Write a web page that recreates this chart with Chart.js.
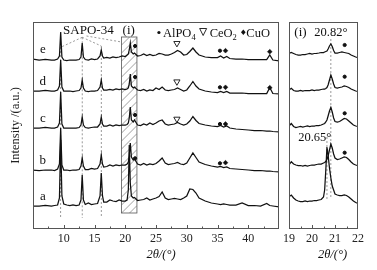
<!DOCTYPE html>
<html lang="en">
<head>
<meta charset="UTF-8">
<title>XRD patterns a-e</title>
<script src="https://cdn.jsdelivr.net/npm/chart.js"></script>
<style>
  html, body { margin: 0; padding: 0; background: #fff; }
  #wrap { position: relative; width: 377px; height: 270px; }
  #wide { position: absolute; left: 0; top: 0; }
  #zoom { position: absolute; left: 284px; top: 0; }
</style>
</head>
<body>
<div id="wrap">
  <canvas id="wide" width="284" height="270"></canvas>
  <canvas id="zoom" width="93" height="270"></canvas>
</div>
<script>
// ---- data (2theta in degrees, intensity in offset a.u.) ----
const SAMPLES = ['a', 'b', 'c', 'd', 'e'];

const X_WIDE = [5, 6, 7, 8, 8.5, 9, 9.3, 9.5, 9.7, 10, 10.5, 11, 11.5, 12, 12.5, 12.8, 13, 13.2, 13.5, 14,
  14.5, 15, 15.5, 15.9, 16.1, 16.3, 16.5, 17, 17.5, 18, 18.5, 19, 19.5, 20, 20.3, 20.5, 20.65, 20.82, 21, 21.3,
  21.5, 22, 22.5, 23, 23.5, 24, 24.5, 25, 25.5, 26, 26.5, 27, 27.5, 28, 28.5, 29, 29.5, 30, 30.5, 31,
  31.5, 32, 33, 34, 35, 35.5, 36, 36.5, 37, 38, 39, 40, 41, 42, 43, 43.5, 44, 45];

const WIDE_A = [23, 23, 23.5, 23, 23.5, 24, 31, 89, 33, 25, 24, 23.5, 24, 23.5, 24, 29, 54, 29, 24.5, 26,
  24.5, 25, 25.5, 33, 56, 33, 27, 27, 29, 28, 27.5, 29, 28, 28, 29, 39, 84, 46, 33, 31,
  31.5, 28.5, 29, 29.5, 31, 29, 30, 31, 32.5, 37, 31, 29.5, 30, 30.5, 30, 29.5, 31, 33, 40, 39.5,
  36, 31, 28, 26, 25, 24.5, 25, 24.5, 24, 24, 26, 23.5, 23.5, 23, 25.5, 23.5, 23, 22];
const WIDE_B = [59, 58.5, 59, 59, 58.5, 60, 65, 101, 64, 59, 59, 58.5, 59, 59, 59.5, 63, 71, 63, 59.5, 59.5,
  60.5, 60, 60.5, 65, 74, 65, 62, 62.5, 64, 63, 64, 63.5, 64, 64, 65, 67, 73, 86, 72, 69,
  70, 65, 64, 65.5, 64, 65, 64.5, 65.5, 68, 71, 66, 64.5, 65, 65.5, 66.5, 65, 64.5, 66, 71, 76,
  71.5, 67, 64.5, 63, 62, 62.5, 61.5, 62, 60.5, 60, 59.5, 59, 58.5, 58.5, 58, 58, 57.5, 57];
const WIDE_C = [101, 101, 101.5, 101, 101, 102, 106, 137, 105, 101, 101, 101, 101, 101, 101.5, 104, 112, 104, 101.5, 101,
  101.5, 102, 102, 105, 112, 105, 103, 103, 104, 103, 104, 103.5, 104, 104, 104.5, 106, 111, 122, 109, 107,
  109, 104, 103.5, 105, 104, 106, 104.5, 106, 108, 109, 105, 104, 104.5, 105, 106.5, 105, 104, 105, 108, 112.5,
  108.5, 105.5, 104, 103, 102.5, 103.5, 102, 103, 101, 100, 99.5, 99, 98.5, 98.5, 98, 98, 97.5, 97];
const WIDE_D = [138, 138, 138.5, 138, 138, 139, 143, 169, 142, 138, 138, 138, 137.5, 138, 138.5, 141, 149, 141, 138, 137.5,
  138, 138, 138.5, 142, 149, 141, 139, 139, 139.5, 139, 140, 139.5, 140, 139.5, 140, 141, 145, 155, 143, 141,
  142, 139, 138.5, 139.5, 138, 139, 138.5, 141, 139.5, 142, 139, 138.5, 139, 139.5, 141, 139.5, 138, 139, 143, 147.5,
  143, 140, 138, 137, 136.5, 137.5, 136.5, 137.5, 136, 136, 136, 135.5, 135.5, 135.5, 135.5, 141.5, 135.5, 135];
const WIDE_E = [170, 169, 169.5, 169, 169, 170, 173, 197, 172, 169, 168.5, 169, 169, 169, 169.5, 172, 186, 172, 169.5, 169,
  170, 169.5, 170, 173, 179, 173, 171, 171.5, 171, 172, 171.5, 172, 173, 172.5, 174, 175, 179, 186, 177, 175,
  176, 173, 173.5, 175, 173.5, 174.5, 173.5, 174, 175.5, 175, 174, 174, 175, 176.5, 178.5, 177, 174, 174.5, 177.5, 181,
  177, 174, 172, 171.5, 171.5, 173, 171, 172.5, 170.5, 170, 170, 169.5, 169.5, 169.5, 169.5, 174, 169, 168];

const X_ZOOM = [19, 19.1, 19.2, 19.3, 19.4, 19.5, 19.6, 19.7, 19.8, 19.9, 20, 20.1, 20.2, 20.3, 20.4, 20.5, 20.55, 20.6,
  20.65, 20.7, 20.76, 20.82, 20.88, 20.94, 21, 21.1, 21.2, 21.3, 21.4, 21.5, 21.6, 21.7, 21.8, 21.9, 22];
const ZOOM_A = [32.3, 34, 31, 29, 28, 27.5, 27.5, 28, 27.5, 28, 28, 28.5, 28.5, 29, 29.5, 32, 39, 59,
  82, 74, 61, 51, 43, 39, 35, 34, 33.5, 33.5, 34, 33.5, 32, 30, 28, 26.5, 25.7];
const ZOOM_B = [64, 67.3, 65, 64, 63.5, 63.5, 63, 63.5, 63, 63.5, 64, 64, 64.5, 65, 65, 66, 66.5, 67.5,
  69.5, 73, 79, 85, 81, 75, 71, 69.5, 70, 71, 72, 71.5, 69.5, 67, 65, 64, 63.3];
const ZOOM_C = [103, 105.5, 102.5, 101.5, 102, 102.5, 102, 102.5, 103, 102.5, 103, 103, 103.5, 103.5, 104, 105, 105.5, 107,
  109, 113, 118, 121.5, 117, 111, 107.5, 107, 107.5, 109, 110.5, 110, 108, 106, 104, 103, 102.5];
const ZOOM_D = [139, 140.7, 138.5, 138, 138, 138.5, 138, 138.5, 138.5, 138.5, 139, 138.5, 139, 139, 139.5, 140, 140, 140.5,
  141.5, 144, 149, 154, 150, 145, 141.5, 141, 141.5, 142, 143, 142.5, 141.5, 140, 139, 138, 137.5];
const ZOOM_E = [175.7, 176.5, 175.5, 174.5, 174, 174, 174.5, 174.5, 175, 175.5, 175, 175.5, 175.7, 176, 176.5, 176.5, 177, 177.5,
  178, 180, 183, 185, 182.5, 178.5, 176, 176, 176.5, 177, 176.5, 176, 175.5, 174, 173, 172, 171.3];

// phase markers
const ALPO4_X = [21.6, 21.6, 21.6, 21.6, 35.4, 35.4, 35.4, 35.4];
const ALPO4_Y = [183, 152, 114, 70.7, 178.3, 141.7, 105, 65.7];
const CEO2_X = [28.4, 28.4, 28.4];
const CEO2_Y = [185.7, 147.3, 110];
const CUO_X = [36.3, 36.3, 36.3, 36.3, 43.5, 43.5];
const CUO_Y = [178.3, 141.7, 105, 66.3, 177.3, 141.3];
const ALPO4_ZOOM_X = [21.42, 21.42, 21.42, 21.42];
const ALPO4_ZOOM_Y = [184, 152.3, 115.7, 76.3];

// SAPO-34 reflections and peak-shift guides
const SAPO_X = [9.5, 13.0, 16.1];
const SAPO_TOP = [182, 191.7, 183];
const SHIFT_X = [20.82, 20.65];
const SHIFT_TOP = [190, 92];

// ---- styling ----
Chart.defaults.font.family = "'Liberation Serif', 'Times New Roman', serif";
Chart.defaults.color = '#222';
const INK = '#111';
const FRAME = '#555';
const DASH = '#808080';
const SERIF = "'Liberation Serif', 'Times New Roman', serif";

function pairs(xs, ys) {
    return xs.map((x, i) => ({ x: x, y: ys[i] }));
}

function traceSet(xs, ys) {
    return { data: pairs(xs, ys), showLine: true, borderColor: INK, borderWidth: 1.25, pointRadius: 0, tension: 0, order: 2 };
}

function dashSet(pts) {
    return { data: pts, showLine: true, borderColor: DASH, borderWidth: 0.8, borderDash: [2, 2], pointRadius: 0, order: 3 };
}

function markerSet(xs, ys, style) {
    return Object.assign({ data: pairs(xs, ys), showLine: false, borderColor: INK, backgroundColor: INK, borderWidth: 1, order: 1 }, style);
}

const DOT = { pointStyle: 'circle', pointRadius: 1.6 };
const DIAMOND = { pointStyle: 'rectRot', pointRadius: 2.4, borderWidth: 0.5 };
const TRIANGLE = { pointStyle: 'triangle', rotation: 180, pointRadius: 3.6, backgroundColor: 'rgba(0,0,0,0)', borderWidth: 0.9 };

function drawFrame(chart, step) {
    const { ctx, chartArea: a, scales: { x } } = chart;
    ctx.save();
    ctx.strokeStyle = FRAME;
    ctx.lineWidth = 1;
    ctx.strokeRect(a.left + 0.5, a.top + 0.5, a.right - a.left - 1, a.bottom - a.top - 1);
    ctx.beginPath();
    for (let v = x.min + step; v < x.max - 1e-6; v += step) {
        const px = Math.round(x.getPixelForValue(v)) + 0.5;
        const major = Math.abs(v / (step * 2) - Math.round(v / (step * 2))) < 1e-6;
        ctx.moveTo(px, a.bottom);
        ctx.lineTo(px, a.bottom - (major ? 4 : 2.5));
    }
    ctx.stroke();
    ctx.restore();
}

function label(ctx, str, px, py, size, align, style) {
    ctx.font = (style || '') + ' ' + size + 'px ' + SERIF;
    ctx.textAlign = align || 'center';
    ctx.textBaseline = 'alphabetic';
    ctx.fillStyle = '#111';
    ctx.fillText(str, px, py);
    return ctx.measureText(str).width;
}

function axisTitle(chart, shift) {
    const { ctx, chartArea: a } = chart;
    label(ctx, '2\u03b8/(\u00b0)', (a.left + a.right) / 2 + shift, 258, 12.5, 'center', 'italic');
}

const widePanel = {
    id: 'widePanel',
    beforeDatasetsDraw(chart) {
        const { ctx, scales: { x, y } } = chart;
        const l = x.getPixelForValue(19.4), r = x.getPixelForValue(21.9);
        const t = y.getPixelForValue(192), b = y.getPixelForValue(16);
        const w = r - l;
        ctx.save();
        ctx.beginPath();
        ctx.rect(l, t, w, b - t);
        ctx.clip();
        ctx.strokeStyle = '#777';
        ctx.lineWidth = 0.7;
        ctx.beginPath();
        for (let k = t - w; k < b + w; k += 8) {
            ctx.moveTo(l, k + w);
            ctx.lineTo(r, k);
        }
        ctx.stroke();
        ctx.restore();
        ctx.save();
        ctx.strokeStyle = '#555';
        ctx.lineWidth = 0.8;
        ctx.strokeRect(l, t, w, b - t);
        ctx.restore();
    },
    afterDatasetsDraw(chart) {
        const { ctx, scales: { x, y } } = chart;
        drawFrame(chart, 2.5);
        ctx.save();
        label(ctx, 'SAPO-34', x.getPixelForValue(14.0), y.getPixelForValue(195), 13);
        label(ctx, '(i)', x.getPixelForValue(20.56), y.getPixelForValue(195), 13);

        // sample letters, just above each trace start
        [WIDE_A, WIDE_B, WIDE_C, WIDE_D, WIDE_E].forEach((s, i) => {
            label(ctx, SAMPLES[i], x.getPixelForValue(6.6), y.getPixelForValue(s[0] + 6), 13);
        });

        // phase legend: • AlPO4  ∇ CeO2  ♦CuO
        let px = x.getPixelForValue(25.15);
        const base = y.getPixelForValue(192.5);
        ctx.fillStyle = '#111';
        ctx.beginPath();
        ctx.arc(px + 2, base - 4, 1.6, 0, Math.PI * 2);
        ctx.fill();
        px += 6;
        px += label(ctx, 'AlPO', px, base, 12.5, 'left');
        px += label(ctx, '4', px, base + 3, 8.5, 'left') + 4;
        ctx.strokeStyle = '#111';
        ctx.lineWidth = 0.9;
        ctx.beginPath();
        ctx.moveTo(px, base - 8);
        ctx.lineTo(px + 7, base - 8);
        ctx.lineTo(px + 3.5, base - 1);
        ctx.closePath();
        ctx.stroke();
        px += 10;
        px += label(ctx, 'CeO', px, base, 12.5, 'left');
        px += label(ctx, '2', px, base + 3, 8.5, 'left') + 4;
        ctx.beginPath();
        ctx.moveTo(px + 2.5, base - 7);
        ctx.lineTo(px + 4.8, base - 4.2);
        ctx.lineTo(px + 2.5, base - 1.4);
        ctx.lineTo(px + 0.2, base - 4.2);
        ctx.closePath();
        ctx.fill();
        px += 5.5;
        label(ctx, 'CuO', px, base, 12.5, 'left');
        axisTitle(chart, 5);
        ctx.restore();
    }
};

const zoomPanel = {
    id: 'zoomPanel',
    afterDatasetsDraw(chart) {
        const { ctx, scales: { x, y } } = chart;
        drawFrame(chart, 0.5);
        ctx.save();
        label(ctx, '(i)', x.getPixelForValue(19.5), y.getPixelForValue(193), 13);
        label(ctx, '20.82\u00b0', x.getPixelForValue(20.82), y.getPixelForValue(193), 12.5);
        label(ctx, '20.65\u00b0', x.getPixelForValue(20.12), y.getPixelForValue(88.5), 12.5);
        axisTitle(chart, 9);
        ctx.restore();
    }
};

const baseY = {
    min: 0, max: 207,
    grid: { display: false, drawTicks: false },
    border: { display: false },
    ticks: { display: false }
};

function xScale(min, max, step) {
    return {
        type: 'linear', min: min, max: max,
        grid: { display: false, drawTicks: false },
        border: { display: false },
        ticks: {
            stepSize: step, padding: 3, maxRotation: 0, autoSkip: false,
            font: { size: 12 }, color: '#222',
            callback: v => (min === 5 && (v === 5 || v === 45)) ? '' : v
        },
        afterFit: s => { s.height = 41; s.paddingLeft = 0; s.paddingRight = 0; }
    };
}

const shared = {
    responsive: false,
    animation: false,
    events: [],
    plugins: { legend: { display: false }, tooltip: { enabled: false } }
};

new Chart(document.getElementById('wide'), {
    type: 'scatter',
    data: {
        datasets: [
            ...[WIDE_A, WIDE_B, WIDE_C, WIDE_D, WIDE_E].map(s => traceSet(X_WIDE, s)),
            ...SAPO_X.map((v, i) => dashSet([{ x: v, y: SAPO_TOP[i] }, { x: v, y: 11 }])),
            dashSet([{ x: 13.0, y: 191.7 }, { x: 9.6, y: 182 }]),
            dashSet([{ x: 13.0, y: 191.7 }, { x: 16.1, y: 183 }]),
            dashSet([{ x: 13.7, y: 193 }, { x: 19.4, y: 187 }]),
            markerSet(ALPO4_X, ALPO4_Y, DOT),
            markerSet(CEO2_X, CEO2_Y, TRIANGLE),
            markerSet(CUO_X, CUO_Y, DIAMOND)
        ]
    },
    options: Object.assign({}, shared, {
        layout: { padding: { top: 22, right: 3, left: 0, bottom: 0 } },
        scales: {
            x: xScale(5, 45, 5),
            y: Object.assign({}, baseY, {
                title: { display: true, text: 'Intensity /(a.u.)', font: { size: 12.5 }, color: '#222', padding: { top: 8.5, bottom: 0 } },
                afterFit: s => { s.width = 33; }
            })
        }
    }),
    plugins: [widePanel]
});

new Chart(document.getElementById('zoom'), {
    type: 'scatter',
    data: {
        datasets: [
            ...[ZOOM_A, ZOOM_B, ZOOM_C, ZOOM_D, ZOOM_E].map(s => traceSet(X_ZOOM, s)),
            ...SHIFT_X.map((v, i) => dashSet([{ x: v, y: SHIFT_TOP[i] }, { x: v, y: 30 }])),
            markerSet(ALPO4_ZOOM_X, ALPO4_ZOOM_Y, DOT)
        ]
    },
    options: Object.assign({}, shared, {
        layout: { padding: { top: 22, right: 19, left: 2, bottom: 0 } },
        scales: {
            x: xScale(19, 22, 1),
            y: Object.assign({}, baseY, { display: false })
        }
    }),
    plugins: [zoomPanel]
});
</script>
</body>
</html>
